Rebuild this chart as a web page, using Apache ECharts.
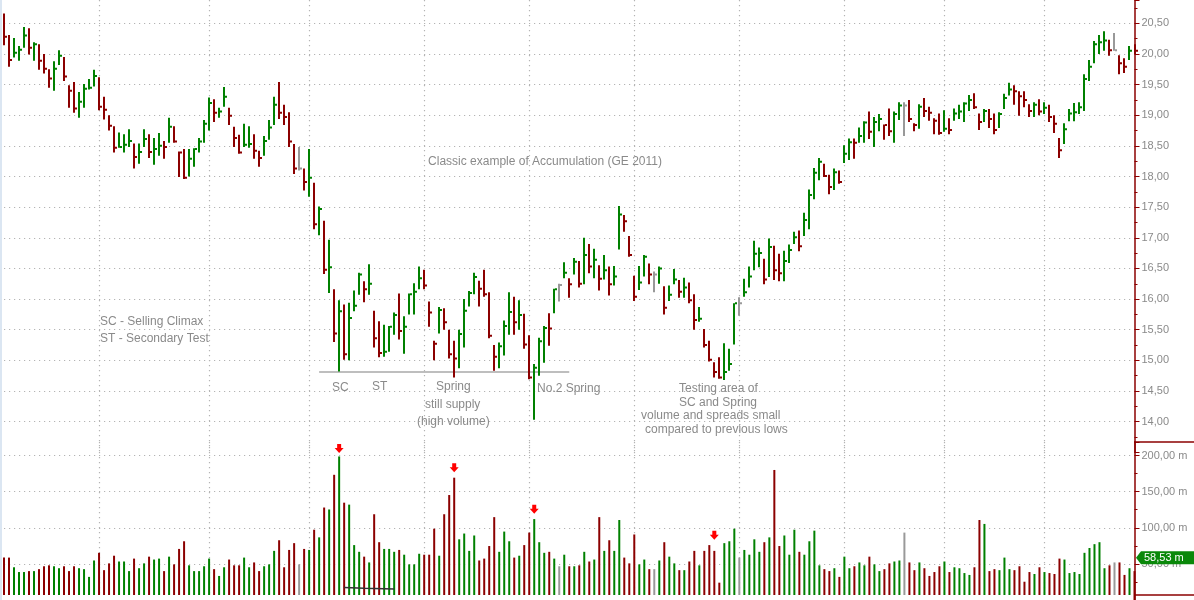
<!DOCTYPE html>
<html>
<head>
<meta charset="utf-8">
<title>Classic example of Accumulation (GE 2011)</title>
<script src="https://cdn.jsdelivr.net/npm/echarts@6/dist/echarts.min.js"></script>
<style>
  html, body { margin: 0; padding: 0; background: #fff; }
  #chart { width: 1194px; height: 600px; }
</style>
</head>
<body>
<div id="chart"></div>
<script>
// daily HLC bars, oldest first
const highs = [
  20.66, 20.31, 20.26, 20.13, 20.44, 20.42, 20.19, 20.16, 20.00, 19.75,
  19.88, 20.06, 19.95, 19.49, 19.54, 19.38, 19.51, 19.59, 19.74, 19.62,
  19.30, 19.00, 18.82, 18.72, 18.69, 18.77, 18.54, 18.54, 18.77, 18.69,
  18.63, 18.71, 18.58, 18.96, 18.82, 18.41, 18.45, 18.45, 18.46, 18.63,
  18.92, 19.29, 19.26, 19.12, 19.46, 19.12, 18.81, 18.68, 18.86, 18.82,
  18.69, 18.42, 18.66, 18.92, 19.30, 19.54, 19.17, 19.05, 18.53, 18.48,
  18.13, 18.45, 17.90, 17.51, 17.28, 16.97, 16.16, 15.98, 15.91, 15.94,
  16.14, 16.43, 16.29, 16.57, 15.81, 15.64, 15.58, 15.56, 15.78, 16.09,
  15.72, 16.09, 16.26, 16.53, 16.48, 15.96, 15.32, 15.87, 15.85, 15.50,
  15.32, 15.50, 16.00, 16.13, 16.43, 16.30, 16.48, 16.11, 15.25, 15.29,
  15.65, 16.11, 16.04, 15.98, 15.76, 15.41, 14.94, 15.37, 15.56, 15.77,
  16.17, 16.25, 16.60, 16.34, 16.67, 16.62, 17.00, 16.90, 16.82, 16.55,
  16.72, 16.53, 16.54, 17.52, 17.37, 17.03, 16.38, 16.54, 16.72, 16.58,
  16.45, 16.53, 16.21, 16.22, 16.49, 16.31, 16.35, 16.27, 16.08, 15.87,
  15.51, 15.32, 14.97, 15.05, 15.28, 15.19, 15.93, 16.03, 16.33, 16.53,
  16.95, 16.84, 16.66, 16.99, 16.87, 16.74, 16.79, 16.89, 17.10, 17.12,
  17.41, 17.79, 18.14, 18.30, 18.21, 18.03, 18.13, 18.10, 18.51, 18.62,
  18.62, 18.80, 18.90, 19.06, 18.97, 19.02, 18.85, 19.11, 19.06, 19.21,
  19.21, 19.25, 18.87, 19.18, 19.28, 19.14, 18.95, 19.03, 19.08, 18.95,
  19.11, 19.17, 19.21, 19.33, 19.36, 19.03, 19.10, 19.10, 19.03, 19.05,
  19.35, 19.53, 19.49, 19.39, 19.39, 19.18, 19.21, 19.26, 19.21, 19.17,
  19.00, 18.63, 18.87, 19.10, 19.20, 19.21, 19.67, 19.90, 20.21, 20.31,
  20.37, 20.23, 20.34, 19.98, 19.93, 20.13, 20.16
];
const lows = [
  20.14, 19.79, 19.94, 19.89, 20.10, 19.99, 19.89, 19.74, 19.68, 19.45,
  19.40, 19.82, 19.56, 19.12, 19.04, 18.96, 19.12, 19.42, 19.47, 19.08,
  18.93, 18.75, 18.39, 18.47, 18.39, 18.48, 18.13, 18.21, 18.48, 18.30,
  18.19, 18.34, 18.29, 18.55, 18.55, 17.99, 17.96, 18.00, 18.16, 18.39,
  18.55, 18.75, 18.89, 18.96, 19.14, 18.84, 18.48, 18.37, 18.48, 18.47,
  18.29, 18.16, 18.34, 18.60, 18.84, 18.94, 18.84, 18.48, 18.04, 18.10,
  17.77, 17.67, 17.14, 17.04, 16.41, 16.10, 15.30, 14.82, 15.01, 15.00,
  15.80, 16.07, 15.95, 16.07, 15.21, 15.05, 15.06, 15.14, 15.42, 15.34,
  15.11, 15.75, 15.75, 16.16, 16.16, 15.55, 15.00, 15.44, 15.50, 15.03,
  14.72, 14.87, 15.21, 15.88, 16.08, 15.88, 16.04, 15.36, 14.83, 14.87,
  15.08, 15.42, 15.42, 15.50, 15.19, 14.69, 14.03, 14.75, 14.96, 15.24,
  15.77, 15.96, 16.34, 16.02, 16.40, 16.19, 16.24, 16.42, 16.34, 16.14,
  16.32, 16.06, 16.22, 16.81, 17.10, 16.69, 15.97, 16.15, 16.37, 16.24,
  16.11, 16.25, 15.75, 15.97, 16.24, 16.02, 16.02, 15.93, 15.50, 15.63,
  15.21, 14.98, 14.72, 14.70, 14.68, 14.83, 15.26, 15.73, 16.04, 16.19,
  16.47, 16.52, 16.24, 16.36, 16.31, 16.29, 16.29, 16.59, 16.90, 16.78,
  17.03, 17.14, 17.63, 17.94, 17.99, 17.71, 17.78, 17.88, 18.22, 18.27,
  18.29, 18.55, 18.55, 18.61, 18.48, 18.74, 18.60, 18.66, 18.55, 18.92,
  18.66, 18.89, 18.74, 18.78, 18.97, 18.91, 18.69, 18.68, 18.73, 18.69,
  18.91, 18.94, 18.89, 19.07, 19.10, 18.76, 18.89, 18.79, 18.69, 18.79,
  19.10, 19.32, 19.17, 18.99, 19.13, 18.97, 18.97, 19.00, 19.02, 18.89,
  18.71, 18.30, 18.53, 18.90, 18.90, 19.02, 19.07, 19.56, 19.85, 20.00,
  20.05, 19.97, 20.05, 19.67, 19.69, 19.90, 20.00
];
const closes = [
  20.28, 19.90, 20.02, 20.07, 20.30, 20.10, 20.16, 19.89, 19.76, 19.60,
  19.76, 19.97, 19.63, 19.40, 19.11, 19.22, 19.43, 19.45, 19.64, 19.14,
  19.09, 18.83, 18.47, 18.48, 18.52, 18.58, 18.32, 18.40, 18.61, 18.40,
  18.45, 18.50, 18.48, 18.81, 18.57, 18.39, 17.98, 18.29, 18.45, 18.57,
  18.86, 19.20, 19.04, 19.06, 19.30, 18.99, 18.63, 18.39, 18.52, 18.53,
  18.42, 18.30, 18.58, 18.80, 19.17, 19.04, 18.97, 18.57, 18.13, 18.13,
  17.91, 17.98, 17.22, 17.47, 16.48, 16.52, 15.44, 15.80, 15.10, 15.69,
  15.89, 16.40, 16.16, 16.25, 15.36, 15.12, 15.14, 15.55, 15.74, 15.48,
  15.55, 16.08, 16.12, 16.34, 16.22, 15.78, 15.27, 15.82, 15.62, 15.10,
  15.03, 15.43, 15.81, 16.10, 16.36, 16.17, 16.08, 15.40, 15.06, 15.23,
  15.56, 15.79, 15.62, 15.74, 15.26, 14.72, 14.88, 15.31, 15.53, 15.52,
  16.16, 16.23, 16.43, 16.24, 16.61, 16.25, 16.72, 16.53, 16.64, 16.33,
  16.47, 16.24, 16.37, 17.38, 17.27, 16.72, 16.04, 16.27, 16.69, 16.40,
  16.40, 16.50, 15.86, 16.07, 16.32, 16.12, 16.19, 15.98, 15.66, 15.68,
  15.25, 15.01, 14.81, 14.72, 14.81, 14.94, 15.93, 15.93, 16.11, 16.37,
  16.74, 16.75, 16.32, 16.85, 16.47, 16.42, 16.62, 16.80, 17.01, 16.86,
  17.29, 17.70, 18.06, 18.24, 18.01, 17.83, 18.07, 17.91, 18.37, 18.56,
  18.55, 18.66, 18.88, 18.73, 18.89, 18.94, 18.84, 18.74, 19.02, 19.16,
  19.16, 18.94, 18.84, 19.14, 19.07, 19.04, 18.91, 18.71, 18.78, 18.76,
  19.03, 19.06, 19.19, 19.25, 19.13, 18.89, 19.07, 18.94, 18.76, 19.02,
  19.28, 19.42, 19.39, 19.31, 19.25, 19.07, 19.17, 19.06, 19.12, 18.97,
  18.86, 18.43, 18.77, 19.03, 19.05, 19.13, 19.59, 19.79, 20.16, 20.19,
  20.22, 20.06, 20.06, 19.85, 19.79, 20.05, 20.05
];
// volume in millions
const volumes = [
  58.7, 58.7, 45.3, 38.7, 38.7, 40, 40, 42.7, 46.7, 48,
  46.7, 44, 46.7, 40, 46.7, 44, 42.7, 32, 54.7, 65.3,
  41.3, 50.7, 61.3, 53.3, 53.3, 40, 57.3, 44, 50.7, 60,
  56, 57.3, 40, 60, 49.3, 70.7, 81.3, 48, 40, 40,
  46.7, 57.3, 42.7, 33.3, 45.3, 56, 48, 48, 58.7, 45.3,
  52, 40, 46.7, 49.3, 68, 82.7, 45.3, 69.3, 78.7, 49.3,
  70.7, 69.3, 97.3, 86.7, 128, 125.3, 173.3, 198.7, 134.7, 132,
  76, 66.7, 60, 52, 118.7, 80, 70.7, 70.7, 66.7, 69.3,
  62.7, 49.3, 49.3, 64, 62.7, 62.7, 98.7, 61.3, 118.7, 145.3,
  169.3, 84, 92, 68, 89.3, 54.7, 57.3, 74.7, 114.7, 66.7,
  94.7, 81.3, 58.7, 61.3, 76, 93.3, 112, 80, 65.3, 66.7,
  57.3, 46.7, 62.7, 46.7, 46.7, 48, 66.7, 53.3, 56, 114.7,
  68, 82.7, 68, 110.7, 58.7, 50.7, 90.7, 49.3, 56, 42.7,
  42.7, 54.7, 80, 60, 50.7, 41.3, 41.3, 53.3, 68, 48,
  68, 76, 68, 24, 78.7, 81.3, 98.7, 58.7, 69.3, 62.7,
  84, 66.7, 80, 86.7, 180, 74.7, 89.3, 62.7, 97.3, 66.7,
  62.7, 81.3, 96, 48, 42.7, 40, 44, 32, 60, 44,
  46.7, 52, 48, 60, 49.3, 40, 42.7, 50.7, 53.3, 54.7,
  93.3, 52, 41.3, 52, 44, 33.3, 38.7, 46.7, 53.3, 38.7,
  45.3, 44, 37.3, 34.7, 45.3, 110.7, 105.3, 40, 42.7, 41.3,
  58.7, 42.7, 41.3, 46.7, 25.3, 38.7, 36, 45.3, 38.7, 37.3,
  36, 57.3, 56, 37.3, 38.7, 36, 65.3, 72, 77.3, 80,
  44, 48, 52, 52, 34.7, 44, 40
];
// u = close up, d = close down, n = unchanged (colours bar and volume)
const moveCodes = [
  'd','d','u','u','u','d','u','d','d','d',
  'u','u','d','d','d','u','u','u','u','d',
  'd','d','d','u','u','u','d','u','u','d',
  'u','u','d','u','d','d','d','u','u','u',
  'u','u','d','u','u','d','d','d','u','u',
  'd','d','u','u','u','d','d','d','d','n',
  'd','u','d','u','d','u','d','u','d','u',
  'u','u','d','u','d','d','u','u','u','d',
  'u','u','u','u','d','d','d','u','d','d',
  'd','u','u','u','u','d','d','d','d','u',
  'u','u','d','u','d','d','u','u','u','d',
  'u','n','u','d','u','d','u','d','u','d',
  'u','d','u','u','d','d','d','u','u','d',
  'n','u','d','u','u','d','u','d','d','u',
  'd','d','d','d','u','u','u','n','u','u',
  'u','u','d','u','d','d','u','u','u','d',
  'u','u','u','u','d','d','u','d','u','u',
  'd','u','u','d','u','u','d','d','u','u',
  'n','d','d','u','d','d','d','d','u','d',
  'u','u','u','u','d','d','u','d','d','u',
  'u','u','d','d','d','d','u','d','u','d',
  'd','d','u','u','u','u','u','u','u','u',
  'u','d','n','d','d','u','d'
];
// first trading day of each month (index)
const monthStarts = [19, 41, 61, 84, 105, 126, 147, 168, 188, 208];
// red arrows over climactic volume: [bar index, volume level]
const arrowMarks = [[67, 209.6], [90, 183], [106, 125.7], [142, 89.7]];
// support line under SC / Spring lows
const supportFrom = 63, supportTo = 113, supportLevel = 14.81;
// faint indicator trace at the bottom of the volume pane
const traceIdx = [68, 72, 78];
const traceVal = [17.2, 16.2, 15.3];
const lastVolumeMark = 58.53;

const notes = [
  { text: 'Classic example of Accumulation (GE 2011)', x: 545, y: 162, align: 'center' },
  { text: 'SC - Selling Climax', x: 100, y: 322 },
  { text: 'ST - Secondary Test', x: 100, y: 339 },
  { text: 'SC', x: 332, y: 388 },
  { text: 'ST', x: 372, y: 387 },
  { text: 'Spring', x: 436, y: 387 },
  { text: 'still supply', x: 425, y: 405 },
  { text: '(high volume)', x: 417, y: 422 },
  { text: 'No.2 Spring', x: 537, y: 389 },
  { text: 'Testing area of', x: 679, y: 389 },
  { text: 'SC and Spring', x: 679, y: 403 },
  { text: 'volume and spreads small', x: 641, y: 416 },
  { text: 'compared to previous lows', x: 645, y: 430 }
];

const COLORS = { u: '#008000', d: '#8b0000', n: '#999999' };
const AXIS_RED = '#8b0000';
const FONT = 'Liberation Sans, Arial, sans-serif';
const dotted = { color: '#b4b4b4', type: [1.2, 3.8], width: 1.2 };

const categories = highs.map((_, i) => String(i + 1));
const priceData = highs.map((h, i) => [i, h, lows[i], closes[i]]);
const supportData = categories.map((_, i) => (i === supportFrom || i === supportTo ? supportLevel : null));
const traceData = categories.map((_, i) => {
  const k = traceIdx.indexOf(i);
  return k >= 0 ? traceVal[k] : null;
});

const fmt = (v) => v.toFixed(2).replace('.', ',');

// HLC bar: vertical high-low stroke plus a close tick on the right
function renderBar(params, api) {
  const i = api.value(0);
  const hi = api.coord([i, api.value(1)]);
  const lo = api.coord([i, api.value(2)]);
  const cl = api.coord([i, api.value(3)]);
  const fill = COLORS[moveCodes[params.dataIndex]];
  const cx = Math.round(hi[0]);
  return {
    type: 'group',
    children: [
      { type: 'rect', shape: { x: cx - 1, y: hi[1], width: 2, height: Math.max(lo[1] - hi[1], 1) }, style: { fill } },
      { type: 'rect', shape: { x: cx + 1, y: cl[1] - 1, width: 2, height: 2 }, style: { fill } }
    ]
  };
}

function xAxisFor(gridIndex) {
  return {
    type: 'category',
    gridIndex,
    data: categories,
    boundaryGap: false,
    axisLine: { show: false },
    axisTick: { show: false },
    axisLabel: { show: false },
    splitLine: {
      show: true,
      interval: (idx) => monthStarts.indexOf(idx) >= 0,
      lineStyle: dotted
    }
  };
}

function yAxisFor(gridIndex, opts) {
  return Object.assign({
    type: 'value',
    gridIndex,
    position: 'right',
    scale: true,
    axisLine: { show: true, onZero: false, lineStyle: { color: AXIS_RED, width: 1.5 } },
    axisTick: { show: true, length: 5, lineStyle: { color: AXIS_RED } },
    minorTick: { show: true, splitNumber: 2, length: 3, lineStyle: { color: AXIS_RED } },
    axisLabel: {
      color: '#8a8a8a', fontSize: 11, fontFamily: FONT, margin: 7,
      showMinLabel: false, showMaxLabel: false
    },
    splitLine: { show: true, showMinLine: false, showMaxLine: false, lineStyle: dotted },
    minorSplitLine: { show: false }
  }, opts);
}

const chart = echarts.init(document.getElementById('chart'), null, { renderer: 'canvas' });

const priceY = yAxisFor(0, { min: 13.5, max: 20.88, interval: 0.5 });
priceY.axisLabel.formatter = fmt;
const volY = yAxisFor(1, { min: 0, max: 218.7, interval: 50 });
volY.axisLabel.formatter = (v) => fmt(v) + ' m';

const arrowPath = 'path://M2.5,0 L6.5,0 L6.5,4 L9,4 L4.5,9 L0,4 L2.5,4 Z';

const staticGraphics = [
  { type: 'rect', shape: { x: 0, y: 0, width: 2, height: 600 }, style: { fill: '#dbe6f2' }, z: 50 },
  { type: 'rect', shape: { x: 2, y: 595, width: 1131, height: 5 }, style: { fill: '#ffffff' }, z: 50 },
  { type: 'line', shape: { x1: 1134, y1: 442, x2: 1194, y2: 442 }, style: { stroke: AXIS_RED, lineWidth: 1.5 }, z: 50 },
  { type: 'line', shape: { x1: 1134, y1: 595, x2: 1194, y2: 595 }, style: { stroke: AXIS_RED, lineWidth: 1.5 }, z: 50 }
].concat(notes.map((n) => ({
  type: 'text',
  z: 50,
  style: {
    text: n.text, x: n.x, y: n.y,
    align: n.align || 'left', verticalAlign: 'middle',
    fill: '#8a8a8a', font: '12px ' + FONT
  }
})));

chart.setOption({
  animation: false,
  backgroundColor: '#ffffff',
  grid: [
    { left: 4, right: 59.5, top: 0, height: 452.3 },
    { left: 4, right: 59.5, top: 442, height: 163.7 }
  ],
  xAxis: [xAxisFor(0), xAxisFor(1)],
  yAxis: [priceY, volY],
  series: [
    {
      name: 'GE',
      type: 'custom',
      xAxisIndex: 0,
      yAxisIndex: 0,
      renderItem: renderBar,
      encode: { x: 0, y: [1, 2, 3] },
      data: priceData,
      z: 3
    },
    {
      name: 'support',
      type: 'line',
      xAxisIndex: 0,
      yAxisIndex: 0,
      data: supportData,
      connectNulls: true,
      showSymbol: false,
      symbol: 'none',
      lineStyle: { color: '#a8a8a8', width: 1.5 },
      z: 2
    },
    {
      name: 'Volume',
      type: 'bar',
      xAxisIndex: 1,
      yAxisIndex: 1,
      data: volumes,
      barWidth: 2,
      clip: false,
      itemStyle: { color: (p) => COLORS[moveCodes[p.dataIndex]] },
      markPoint: {
        symbol: arrowPath,
        symbolSize: [9, 9],
        itemStyle: { color: '#ff0000' },
        label: { show: false },
        data: arrowMarks.map((a) => ({ coord: [a[0], a[1]] }))
      },
      z: 3
    },
    {
      name: 'trace',
      type: 'line',
      xAxisIndex: 1,
      yAxisIndex: 1,
      data: traceData,
      connectNulls: true,
      showSymbol: false,
      symbol: 'none',
      lineStyle: { color: '#333333', width: 1.5 },
      z: 4
    }
  ],
  graphic: staticGraphics
});

// last-value tag on the volume axis
const tagY = chart.convertToPixel({ yAxisIndex: 1 }, lastVolumeMark);
chart.setOption({
  graphic: staticGraphics.concat([
    {
      type: 'polygon',
      z: 60,
      shape: { points: [[1136, tagY], [1141, tagY - 6.5], [1194, tagY - 6.5], [1194, tagY + 6.5], [1141, tagY + 6.5]] },
      style: { fill: '#0a880a' }
    },
    {
      type: 'text',
      z: 61,
      style: {
        text: fmt(lastVolumeMark) + ' m', x: 1144, y: tagY,
        verticalAlign: 'middle', fill: '#ffffff', font: '11px ' + FONT
      }
    }
  ])
});

window.addEventListener('resize', () => chart.resize());
</script>
</body>
</html>
